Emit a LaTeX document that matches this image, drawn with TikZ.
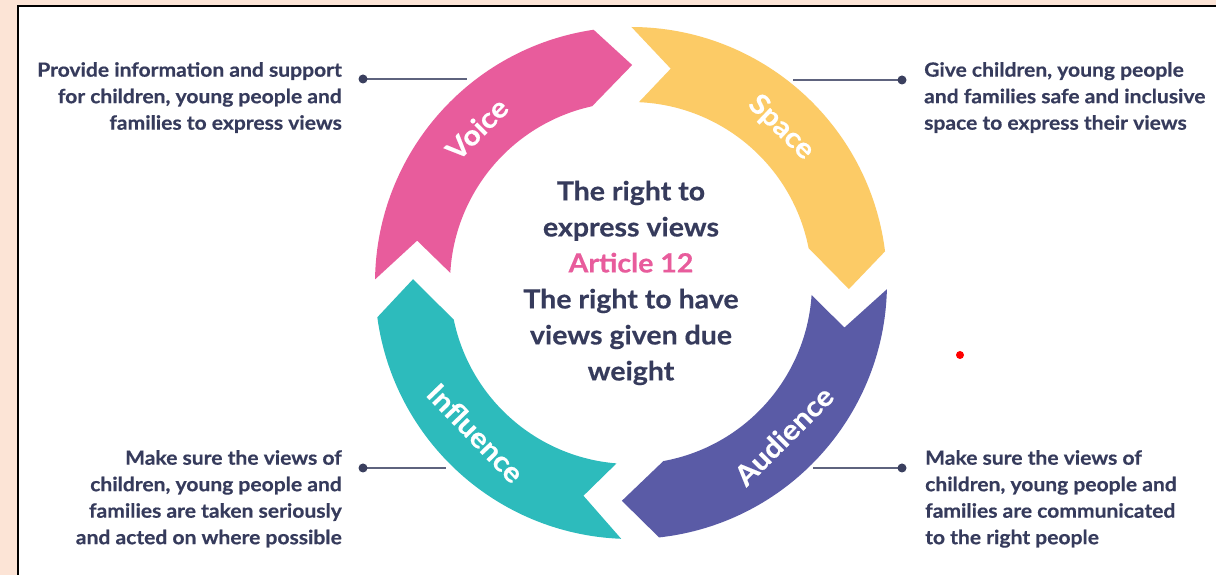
\documentclass[tikz,border=0pt]{standalone}
\usepackage{fontspec}
\setmainfont{Lato}[FakeStretch=1.08, BoldFeatures={FakeBold=0.5}]
\definecolor{peach}{HTML}{FCE4D6}
\definecolor{voicec}{HTML}{E85C9C}
\definecolor{spacec}{HTML}{FCCB66}
\definecolor{audc}{HTML}{5A5BA6}
\definecolor{inflc}{HTML}{2DBBBC}
\definecolor{ink}{HTML}{363B5C}
\definecolor{linec}{HTML}{5E637E}
\definecolor{dotcol}{HTML}{3A3F5E}
\newcommand\ringseg[3]{%
  \pgfmathsetmacro\ta{#2+0.2}%
  \pgfmathsetmacro\tb{#3+8.7}%
  \pgfmathsetmacro\tc{#3+12.7}%
  \pgfmathsetmacro\td{#2-2.2}%
  \pgfmathsetmacro\te{#2-10.2}%
  \fill[#1] (\ta:256pt) arc[start angle=\ta, end angle=\tb, radius=256pt]
    -- (#3:218pt) -- (\tc:181pt)
    arc[start angle=\tc, end angle=\td, radius=181pt]
    -- (\te:218pt) -- cycle;}
\begin{document}
\begin{tikzpicture}[x=1pt,y=1pt,
  sidetext/.style={font=\fontsize{19.5}{26.5}\selectfont\bfseries, text=ink, inner sep=0pt},
  ringlabel/.style={font=\fontsize{28}{30}\selectfont\bfseries, text=white, inner sep=0pt},
  centertext/.style={font=\fontsize{26.4}{36}\selectfont\bfseries, text=ink, align=center, inner sep=0pt},
  conn/.style={draw=linec, line width=2pt},
  enddot/.style={fill=dotcol}]
\useasboundingbox (0,0) rectangle (1216,575);
% frame
\fill[peach] (0,0) rectangle (1216,575);
\fill[white] (18,0) rectangle (1216,569);
\draw[black, line width=2pt] (18,-5) -- (18,569) -- (1221,569);
% ring
\coordinate (C) at (631,292);
\begin{scope}[shift={(C)}]
  \ringseg{voicec}{179}{89.7}
  \ringseg{spacec}{89.7}{-1.6}
  \ringseg{audc}{-1.6}{-92.4}
  \ringseg{inflc}{-92.4}{-181}
  \node[ringlabel, rotate=45] (voice) at (135:218pt) {Voice};
  \node[ringlabel, rotate=-44] (space) at (46:216pt) {Space};
  \node[ringlabel, rotate=45] (aud) at (-45:216pt) {Audience};
  \node[ringlabel, rotate=-46] (infl) at (224:216pt) {Influence};
\end{scope}
\node[centertext] (centre) at (C) {The right to\\express views\\{\color{voicec}Article 12}\\The right to have\\views given due\\weight};
% side texts
\node[sidetext, anchor=north east, align=right] (tl) at (342,513) {Provide information and support\\for children, young people and\\families to express views};
\node[sidetext, anchor=north west, align=left] (tr) at (924,513) {Give children, young people\\and families safe and inclusive\\space to express their views};
\node[sidetext, anchor=north east, align=right] (bl) at (342,125) {Make sure the views of\\children, young people and\\families are taken seriously\\and acted on where possible};
\node[sidetext, anchor=north west, align=left] (br) at (925,125) {Make sure the views of\\children, young people and\\families are communicated\\to the right people};
% connectors
\coordinate (tlA) at (363,496); \coordinate (tlB) at (467,496);
\coordinate (trA) at (902,495); \coordinate (trB) at (793,495);
\coordinate (blA) at (363,107); \coordinate (blB) at (446,107);
\coordinate (brA) at (902,107); \coordinate (brB) at (813,107);
\draw[conn] (tlA) -- (tlB);
\draw[conn] (trA) -- (trB);
\draw[conn] (blA) -- (blB);
\draw[conn] (brA) -- (brB);
\fill[enddot] (tlA) circle[radius=4.5pt];
\fill[enddot] (trA) circle[radius=4.5pt];
\fill[enddot] (blA) circle[radius=4.5pt];
\fill[enddot] (brA) circle[radius=4.5pt];
% red dot
\coordinate (reddot) at (960,220);
\fill[red] (reddot) circle[radius=4pt];
\end{tikzpicture}
\end{document}
